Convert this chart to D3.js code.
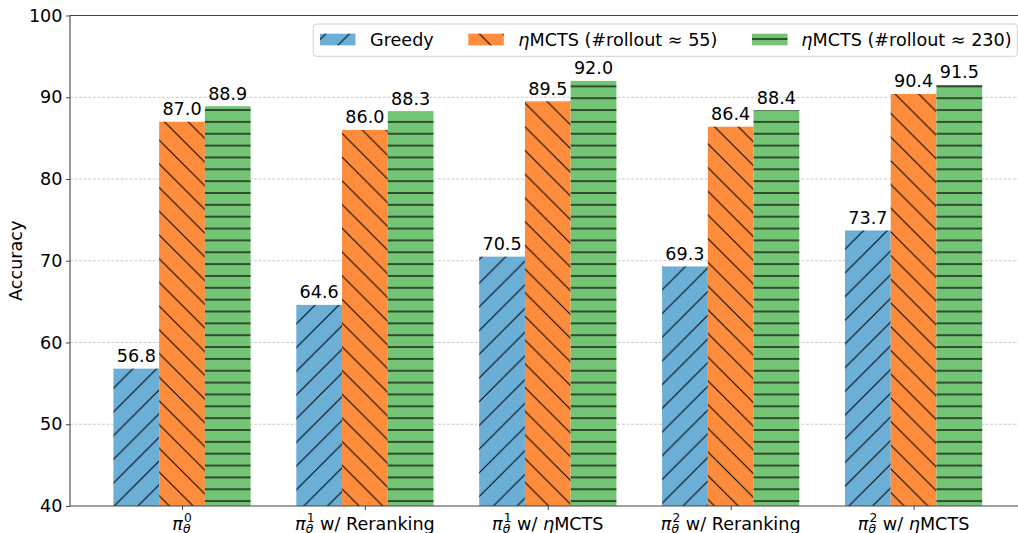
<!DOCTYPE html>
<html>
<head>
<meta charset="utf-8">
<script src="https://cdn.jsdelivr.net/npm/d3@7"></script>
<style>
  html, body { margin: 0; padding: 0; background: #fff; }
  svg { display: block; font-family: "DejaVu Sans", sans-serif; }
</style>
</head>
<body>
<svg id="chart" width="1018" height="533"></svg>
<script>
// ---------- data ----------
const categories = ["pi0", "pi1_rerank", "pi1_mcts", "pi2_rerank", "pi2_mcts"];
const policySup = ["0", "1", "1", "2", "2"];
const methodSuffix = ["", " w/ Reranking", " w/ ηMCTS", " w/ Reranking", " w/ ηMCTS"];
const seriesNames = ["Greedy", "ηMCTS (#rollout ≈ 55)", "ηMCTS (#rollout ≈ 230)"];
const greedy = [56.8, 64.6, 70.5, 69.3, 73.7];
const mcts55 = [87.0, 86.0, 89.5, 86.4, 90.4];
const mcts230 = [88.9, 88.3, 92.0, 88.4, 91.5];
const yTicks = [40, 50, 60, 70, 80, 90, 100];
const seriesColors = ["#6baed6", "#fd8d3c", "#74c476"];
const seriesHatch = ["slash", "backslash", "horiz"];

const series = [greedy, mcts55, mcts230];

// ---------- layout ----------
const svg = d3.select("#chart");
const FS = 17.6, SFS = 12.3;
const plotLeft = 70, plotTop = 15.5, plotBottom = 506;
const x = d3.scaleLinear().domain([-0.6125, 4.6125]).range([plotLeft, 1025.6]);
const y = d3.scaleLinear().domain([40, 100]).range([plotBottom, plotTop]);
const barW = 0.25;

// ---------- hatch patterns ----------
const defs = svg.append("defs");
const s = 23.7;
const p1 = defs.append("pattern").attr("id", "slash").attr("patternUnits", "userSpaceOnUse")
  .attr("x", 4).attr("y", 0).attr("width", s).attr("height", s);
p1.append("path")
  .attr("d", `M0,${s} L${s},0 M${-s/4},${s/4} L${s/4},${-s/4} M${3*s/4},${5*s/4} L${5*s/4},${3*s/4}`)
  .attr("stroke", "#000").attr("stroke-width", 1).attr("fill", "none");
const p2 = defs.append("pattern").attr("id", "backslash").attr("patternUnits", "userSpaceOnUse")
  .attr("x", 19).attr("y", 0).attr("width", s).attr("height", s);
p2.append("path")
  .attr("d", `M0,0 L${s},${s} M${-s/4},${3*s/4} L${s/4},${5*s/4} M${3*s/4},${-s/4} L${5*s/4},${s/4}`)
  .attr("stroke", "#000").attr("stroke-width", 1).attr("fill", "none");
const hh = 11.85;
const p3 = defs.append("pattern").attr("id", "horiz").attr("patternUnits", "userSpaceOnUse")
  .attr("x", 0).attr("y", 3.4 - hh/2).attr("width", 20).attr("height", hh);
p3.append("path").attr("d", `M0,${hh/2} L20,${hh/2}`)
  .attr("stroke", "#000").attr("stroke-width", 1.2).attr("fill", "none");

// ---------- grid ----------
svg.append("g").selectAll("line").data(yTicks.filter(t => t > 40 && t < 100)).join("line")
  .attr("x1", plotLeft).attr("x2", 1018)
  .attr("y1", d => y(d)).attr("y2", d => y(d))
  .attr("stroke", "#bdbdbd").attr("stroke-width", 0.8).attr("stroke-dasharray", "3,1.6");

// ---------- bars ----------
series.forEach((vals, si) => {
  const g = svg.append("g");
  const off = (si - 1) * barW;
  const rects = g.selectAll("g.bar").data(vals).join("g").attr("class", "bar");
  rects.append("rect")
    .attr("x", (d, i) => x(i + off - barW/2))
    .attr("width", x(barW) - x(0))
    .attr("y", d => y(d)).attr("height", d => plotBottom - y(d))
    .attr("fill", seriesColors[si]);
  rects.append("rect")
    .attr("x", (d, i) => x(i + off - barW/2))
    .attr("width", x(barW) - x(0))
    .attr("y", d => y(d)).attr("height", d => plotBottom - y(d))
    .attr("fill", `url(#${seriesHatch[si]})`);
  g.selectAll("text").data(vals).join("text")
    .attr("x", (d, i) => x(i + off))
    .attr("y", d => y(d) - 6.5)
    .attr("text-anchor", "middle")
    .attr("font-size", FS).attr("fill", "#000")
    .text(d => d.toFixed(1));
});

// ---------- axes / spines ----------
const spineColor = "#444";
svg.append("line").attr("x1", plotLeft).attr("x2", plotLeft).attr("y1", plotTop).attr("y2", plotBottom)
  .attr("stroke", spineColor).attr("stroke-width", 1.1);
svg.append("line").attr("x1", plotLeft).attr("x2", 1018).attr("y1", plotBottom).attr("y2", plotBottom)
  .attr("stroke", spineColor).attr("stroke-width", 1.1);
svg.append("line").attr("x1", plotLeft).attr("x2", 1018).attr("y1", plotTop).attr("y2", plotTop)
  .attr("stroke", spineColor).attr("stroke-width", 1.1);

const yAxis = d3.axisLeft(y).tickValues(yTicks).tickSize(4).tickPadding(3.5).tickFormat(d3.format("d"));
const ya = svg.append("g").attr("transform", `translate(${plotLeft},0)`).call(yAxis);
ya.select(".domain").remove();
ya.selectAll(".tick line").attr("stroke", spineColor);
ya.selectAll(".tick text").attr("font-size", FS).attr("fill", "#000")
  .attr("font-family", "DejaVu Sans");

const xAxis = d3.axisBottom(x).tickValues(d3.range(categories.length)).tickSize(4).tickFormat("");
const xa = svg.append("g").attr("transform", `translate(0,${plotBottom})`).call(xAxis);
xa.select(".domain").remove();
xa.selectAll(".tick line").attr("stroke", spineColor);

// math tick labels
categories.forEach((c, i) => {
  const t = svg.append("text").attr("y", 529.5).attr("font-size", FS).attr("fill", "#000");
  t.append("tspan").attr("font-style", "italic").text("π");
  const sub = t.append("tspan").attr("font-style", "italic").attr("font-size", SFS).attr("dy", 3.3).text("θ");
  const sup = t.append("tspan").attr("font-size", SFS).attr("dy", -11).text(policySup[i]);
  const ws = sub.node().getComputedTextLength();
  const wp = sup.node().getComputedTextLength();
  sup.attr("dx", -ws + 1);
  const parts = methodSuffix[i].split("η");
  t.append("tspan").attr("dy", 7.7).attr("dx", Math.max(0, ws - wp - 1)).text(parts[0].replace(/ /g, "\u00a0"));
  if (parts.length > 1) {
    t.append("tspan").attr("font-style", "italic").text("η");
    t.append("tspan").text(parts[1]);
  }
  const bb = t.node().getBBox();
  t.attr("x", x(i) - bb.width / 2);
});

// y label
svg.append("text")
  .attr("transform", `translate(21.5,${(plotTop + plotBottom) / 2}) rotate(-90)`)
  .attr("text-anchor", "middle").attr("font-size", FS).attr("fill", "#000")
  .text("Accuracy");

// ---------- legend ----------
const lg = svg.append("g");
lg.append("rect").attr("x", 313.3).attr("y", 24).attr("width", 1017.3 - 313.3).attr("height", 32.3)
  .attr("rx", 3).attr("fill", "#fff").attr("fill-opacity", 0.8)
  .attr("stroke", "#d0d0d0").attr("stroke-width", 1);
const handleX = [320, 468.3, 752];
const textX = [370, 518.3, 801.3];
seriesNames.forEach((name, si) => {
  lg.append("rect").attr("x", handleX[si]).attr("y", 33.7).attr("width", 35.5).attr("height", 11.6)
    .attr("fill", seriesColors[si]);
  lg.append("rect").attr("x", handleX[si]).attr("y", 33.7).attr("width", 35.5).attr("height", 11.6)
    .attr("fill", `url(#${seriesHatch[si]})`);
  const t = lg.append("text").attr("x", textX[si]).attr("y", 45.8).attr("font-size", FS).attr("fill", "#000");
  const parts = name.split("η");
  if (parts.length > 1) {
    t.append("tspan").attr("font-style", "italic").text("η");
    t.append("tspan").text(parts[1]);
  } else {
    t.text(name);
  }
});
</script>
</body>
</html>
